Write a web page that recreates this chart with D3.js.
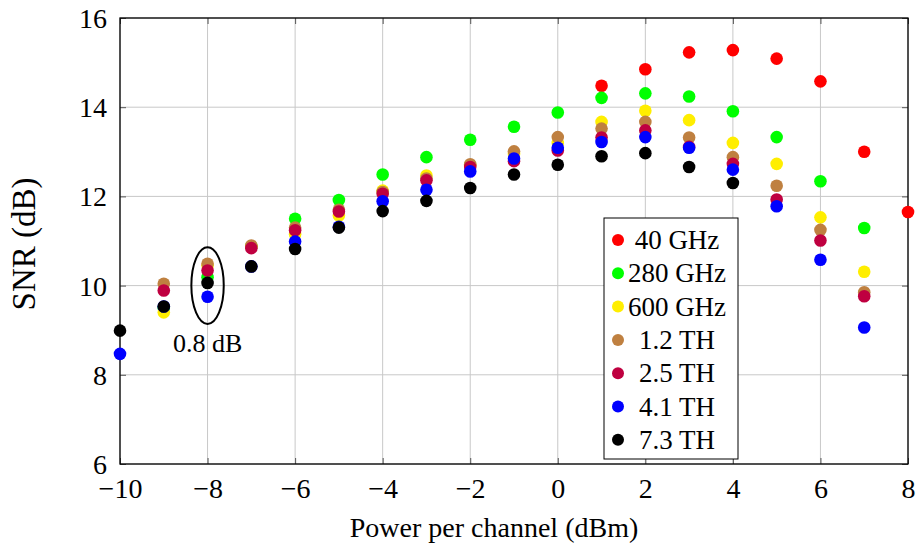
<!DOCTYPE html>
<html>
<head>
<meta charset="utf-8">
<script src="https://cdn.jsdelivr.net/npm/d3@7"></script>
<style>
  body { margin: 0; background: #fff; }
  svg { display: block; }
  svg, svg text { font-family: "Liberation Serif", "Times New Roman", Times, "Nimbus Roman", "DejaVu Serif", "Noto Serif", serif; fill: #000; }
</style>
</head>
<body>
<svg id="chart" width="919" height="547"></svg>
<script>
// Power per channel (dBm)
const powers = [-10, -9, -8, -7, -6, -5, -4, -3, -2, -1, 0, 1, 2, 3, 4, 5, 6, 7, 8];

// SNR (dB) per series, null where no point was measured
const snr40G = [null, null, null, null, null, null, null, null, null, null, null, 14.48, 14.85, 15.23, 15.28, 15.09, 14.58, 13.0, 11.65];
const snr280G = [null, 9.5, 10.19, 10.88, 11.5, 11.92, 12.49, 12.88, 13.27, 13.56, 13.88, 14.21, 14.31, 14.24, 13.91, 13.33, 12.34, 11.29, null];
const snr600G = [null, 9.4, 10.45, 10.88, 11.15, 11.57, 12.13, 12.47, 12.7, 12.95, 13.2, 13.67, 13.92, 13.71, 13.2, 12.73, 11.53, 10.31, null];
const snr1T2 = [null, 10.04, 10.49, 10.9, 11.3, 11.7, 12.1, 12.4, 12.72, 13.01, 13.33, 13.52, 13.67, 13.32, 12.88, 12.24, 11.25, 9.85, null];
const snr2T5 = [null, 9.89, 10.34, 10.84, 11.24, 11.66, 12.06, 12.36, 12.66, 12.79, 13.03, 13.32, 13.48, 13.11, 12.73, 11.93, 11.01, 9.76, null];
const snr4T1 = [8.47, 9.53, 9.75, 10.43, 10.99, 11.32, 11.89, 12.15, 12.56, 12.85, 13.09, 13.22, 13.33, 13.09, 12.6, 11.78, 10.58, 9.06, null];
const snr7T3 = [8.99, 9.53, 10.06, 10.43, 10.82, 11.3, 11.67, 11.9, 12.19, 12.49, 12.71, 12.9, 12.97, 12.66, 12.3, null, null, null, null];

const seriesNames = ['40 GHz', '280 GHz', '600 GHz', '1.2 TH', '2.5 TH', '4.1 TH', '7.3 TH'];
const seriesColors = ['#ff0000', '#00ff00', '#ffee00', '#bf8040', '#bf0040', '#0000ff', '#000000'];
const seriesValues = [snr40G, snr280G, snr600G, snr1T2, snr2T5, snr4T1, snr7T3];

const xTicks = [-10, -8, -6, -4, -2, 0, 2, 4, 6, 8];
const yTicks = [6, 8, 10, 12, 14, 16];

// annotation: spread at -8 dBm
const spreadAt = [-8, 10];
const spreadRadius = [0.37, 0.86];
const spreadLabel = '0.8 dB';

const FONT = '"Liberation Serif", "Times New Roman", Times, "Nimbus Roman", "DejaVu Serif", serif';
const margin = { left: 120, right: 11, top: 18, bottom: 83 };
const W = 919, H = 547;
const svg = d3.select('#chart').attr('font-family', FONT);

const x = d3.scaleLinear().domain([-10, 8]).range([margin.left, W - margin.right]);
const y = d3.scaleLinear().domain([6, 16]).range([H - margin.bottom, margin.top]);
const [x0, x1] = x.range();
const [y0, y1] = y.range();

const minus = v => v < 0 ? '\u2212' + Math.abs(v) : String(v);

// grid
const grid = svg.append('g').attr('stroke', '#c8c8c8').attr('stroke-width', 1);
grid.selectAll('.gx').data(xTicks).enter().append('line')
  .attr('x1', d => x(d)).attr('x2', d => x(d)).attr('y1', y1).attr('y2', y0);
grid.selectAll('.gy').data(yTicks).enter().append('line')
  .attr('x1', x0).attr('x2', x1).attr('y1', d => y(d)).attr('y2', d => y(d));

// axes (inward ticks on all sides, like pgfplots)
const tickLen = 6;
const xb = svg.append('g').attr('transform', `translate(0,${y0})`)
  .call(d3.axisBottom(x).tickValues(xTicks).tickSizeInner(-tickLen).tickSizeOuter(0).tickPadding(14).tickFormat(minus));
const xt = svg.append('g').attr('transform', `translate(0,${y1})`)
  .call(d3.axisTop(x).tickValues(xTicks).tickSizeInner(-tickLen).tickSizeOuter(0).tickFormat(''));
const yl = svg.append('g').attr('transform', `translate(${x0},0)`)
  .call(d3.axisLeft(y).tickValues(yTicks).tickSizeInner(-tickLen).tickSizeOuter(0).tickPadding(13));
const yr = svg.append('g').attr('transform', `translate(${x1},0)`)
  .call(d3.axisRight(y).tickValues(yTicks).tickSizeInner(-tickLen).tickSizeOuter(0).tickFormat(''));

[xb, xt, yl, yr].forEach(g => {
  g.attr('font-family', FONT).attr('font-size', 28);
  g.select('.domain').remove();
  g.selectAll('.tick line').attr('stroke', '#555').attr('stroke-width', 1);
  g.selectAll('text').attr('fill', '#000');
});
xb.selectAll('text').attr('dy', '0.71em');
yl.selectAll('text').attr('dy', '0.34em');

svg.append('rect')
  .attr('x', x0).attr('y', y1).attr('width', x1 - x0).attr('height', y0 - y1)
  .attr('fill', 'none').attr('stroke', '#000').attr('stroke-width', 1.3);

// axis titles
svg.append('text')
  .attr('x', 494).attr('y', 537)
  .attr('text-anchor', 'middle').attr('font-size', 28)
  .text('Power per channel (dBm)');
svg.append('text')
  .attr('transform', 'translate(35,244) rotate(-90)')
  .attr('text-anchor', 'middle').attr('font-size', 33)
  .text('SNR (dB)');

// points
seriesValues.forEach((vals, i) => {
  svg.append('g').selectAll('circle')
    .data(powers.map((p, j) => [p, vals[j]]).filter(d => d[1] !== null))
    .enter().append('circle')
    .attr('cx', d => x(d[0])).attr('cy', d => y(d[1]))
    .attr('r', 6.3).attr('fill', seriesColors[i]);
});

// annotation
svg.append('ellipse')
  .attr('cx', x(spreadAt[0])).attr('cy', y(spreadAt[1]))
  .attr('rx', x(spreadAt[0] + spreadRadius[0]) - x(spreadAt[0]))
  .attr('ry', y(spreadAt[1]) - y(spreadAt[1] + spreadRadius[1]))
  .attr('fill', 'none').attr('stroke', '#000').attr('stroke-width', 2);
svg.append('text')
  .attr('x', x(spreadAt[0])).attr('y', 352)
  .attr('text-anchor', 'middle').attr('font-size', 26)
  .text(spreadLabel);

// legend
const lg = svg.append('g').attr('transform', 'translate(604,218)');
const rowH = 33.3;
lg.append('rect').attr('width', 134).attr('height', 241)
  .attr('fill', '#fff').attr('stroke', '#000').attr('stroke-width', 1);
seriesNames.forEach((name, i) => {
  const cy = 22 + i * rowH;
  lg.append('circle').attr('cx', 14).attr('cy', cy).attr('r', 6).attr('fill', seriesColors[i]);
  lg.append('text').attr('x', 73).attr('y', cy).attr('dy', '0.34em')
    .attr('text-anchor', 'middle').attr('font-size', 27).text(name);
});
</script>
</body>
</html>
